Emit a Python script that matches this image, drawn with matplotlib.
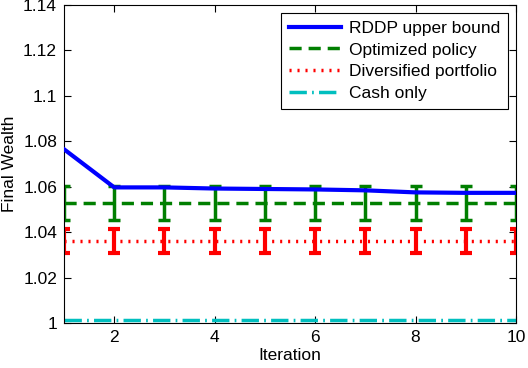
import numpy as np
import matplotlib
matplotlib.use("Agg")
import matplotlib.pyplot as plt
from matplotlib.lines import Line2D

plt.rcParams['font.family'] = ['Liberation Sans', 'DejaVu Sans']

# data
iterations = np.arange(1, 11)
rddp_upper = [1.0765, 1.0597, 1.0597, 1.0592, 1.0590, 1.0588, 1.0584, 1.0575, 1.0573, 1.0573]
optimized_mean = [1.0527] * 10
optimized_err = [0.0075] * 10
diversified_mean = [1.0359] * 10
diversified_err = [0.0053] * 10
cash_only = [1.0012] * 10

yticks = [1, 1.02, 1.04, 1.06, 1.08, 1.1, 1.12, 1.14]
ytick_labels = ['1', '1.02', '1.04', '1.06', '1.08', '1.1', '1.12', '1.14']
xticks = [2, 4, 6, 8, 10]

blue, green, red, cyan = '#0000ff', '#007f00', '#ff0000', '#00bfbf'
dash_green = (0, (3.5, 2))
dot_red = (0, (0.6, 1.7))
dashdot_cyan = (0, (5, 1.5, 0.5, 1.5))

fig = plt.figure(figsize=(5.28, 3.68), dpi=100)
ax = fig.add_axes([64/528, 45/368, 452/528, 318/368])

ax.plot(iterations, rddp_upper, color=blue, lw=3, zorder=5)
ax.errorbar(iterations, optimized_mean, yerr=optimized_err, color=green, lw=2.5,
            ls=dash_green, capsize=4, capthick=2.5, elinewidth=2.5)
ax.errorbar(iterations, diversified_mean, yerr=diversified_err, color=red, lw=2.5,
            ls=dot_red, capsize=4, capthick=3, elinewidth=3)
ax.plot(iterations, cash_only, color=cyan, lw=2.5, ls=dashdot_cyan)

ax.set_xlim(1, 10)
ax.set_ylim(1, 1.14)
ax.set_xticks(xticks)
ax.set_yticks(yticks)
ax.set_yticklabels(ytick_labels)
ax.tick_params(direction='in', top=True, right=True, labelsize=12.5, length=5, width=0.8, pad=5)
ax.set_xlabel('Iteration', fontsize=12.5, labelpad=2)
ax.set_ylabel('Final Wealth', fontsize=12.5, labelpad=4)
for s in ax.spines.values():
    s.set_linewidth(0.8)

handles = [
    Line2D([], [], color=blue, lw=3),
    Line2D([], [], color=green, lw=2.5, ls=dash_green),
    Line2D([], [], color=red, lw=2.5, ls=dot_red),
    Line2D([], [], color=cyan, lw=2.5, ls=dashdot_cyan),
]
labels = ['RDDP upper bound', 'Optimized policy', 'Diversified portfolio', 'Cash only']
leg = ax.legend(handles, labels, loc='upper right', fontsize=12.5, handlelength=3.0,
                fancybox=False, edgecolor='black', framealpha=1, borderpad=0.45,
                labelspacing=0.38, handletextpad=0.45, borderaxespad=0.45)
leg.get_frame().set_linewidth(0.8)

fig.savefig('out.png', dpi=100)
